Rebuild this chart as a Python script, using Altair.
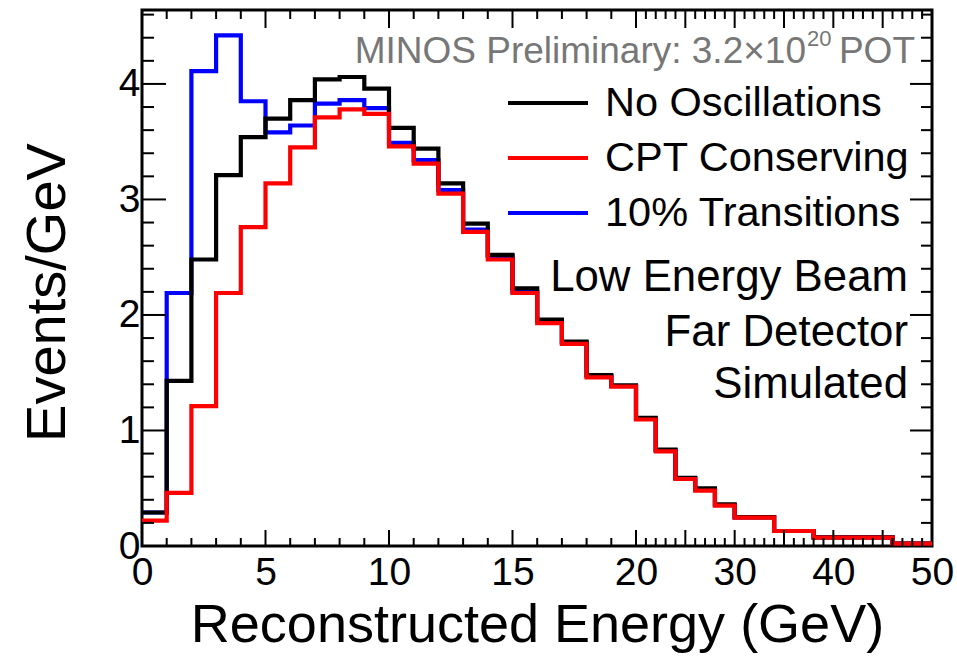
import altair as alt
import pandas as pd

# ---- data ----
edges = [0, 1, 2, 3, 4, 5, 6, 7, 8, 9, 10, 11, 12, 13, 14, 15, 16, 17, 18, 19, 20,
         22, 24, 26, 28, 30, 34, 38, 46, 50]
no_osc = [0.29, 1.43, 2.48, 3.21, 3.54, 3.70, 3.86, 4.04, 4.06, 3.96, 3.62, 3.44, 3.14, 2.79,
          2.52, 2.23, 1.96, 1.77, 1.48, 1.39, 1.11, 0.835, 0.59, 0.50, 0.36, 0.25, 0.13, 0.075, 0.02]
cpt_cons = [0.22, 0.46, 1.21, 2.19, 2.76, 3.14, 3.45, 3.71, 3.78, 3.74, 3.46, 3.31, 3.05, 2.72,
            2.48, 2.19, 1.93, 1.75, 1.46, 1.38, 1.095, 0.82, 0.58, 0.48, 0.35, 0.245, 0.13, 0.073, 0.02]
trans10 = [0.29, 2.19, 4.11, 4.42, 3.85, 3.58, 3.64, 3.83, 3.86, 3.79, 3.49, 3.34, 3.08, 2.74,
           2.51, 2.20, 1.95, 1.76, 1.47, 1.385, 1.10, 0.83, 0.585, 0.49, 0.355, 0.248, 0.13, 0.074, 0.02]
series_names = ["10% Transitions", "No Oscillations", "CPT Conserving"]
series_vals = [trans10, no_osc, cpt_cons]
series_colors = ["#0000ff", "#000000", "#ff0000"]

x_label_vals = [0, 5, 10, 15, 20, 30, 40, 50]
y_label_vals = [0, 1, 2, 3, 4]
x_major = [5, 10, 15, 20, 25, 30, 35, 40, 45]
x_minor = [v for v in range(1, 50) if v % 5 != 0]
y_major = [1, 2, 3, 4]
y_minor = [round(0.2 * i, 1) for i in range(1, 24) if i % 5 != 0]

W, H = 790, 536
FONT = "Liberation Sans"

rows = []
for order, (name, vals) in enumerate(zip(series_names, series_vals)):
    for e, v in zip(edges[:-1], vals):
        rows.append({"series": name, "E": e, "val": v, "order": order})
    rows.append({"series": name, "E": edges[-1], "val": vals[-1], "order": order})
df = pd.DataFrame(rows)

xs = alt.Scale(domain=[0, 20, 50], range=[0, 494, W])
ys = alt.Scale(domain=[0, 4.64], nice=False, zero=False)

x_axis = alt.Axis(values=x_label_vals, ticks=False, domain=False, grid=False,
                  labelFontSize=39, labelPadding=7, labelFont=FONT, labelColor="black",
                  labelFlush=False, labelOverlap=False,
                  title="Reconstructed Energy (GeV)", titleFontSize=54, titleFont=FONT,
                  titleFontWeight="normal", titleColor="black", titlePadding=6)
y_axis = alt.Axis(values=y_label_vals, ticks=False, domain=False, grid=False,
                  labelFontSize=39, labelPadding=2, labelFont=FONT, labelColor="black",
                  labelFlush=False, labelOverlap=False,
                  title="Events/GeV", titleFontSize=56, titleFont=FONT,
                  titleFontWeight="normal", titleColor="black", titlePadding=42,
                  titleY=282)

layers = []
for name, col in zip(series_names, series_colors):
    layers.append(
        alt.Chart(df).transform_filter(alt.datum.series == name).mark_line(
            interpolate="step-after", color=col, strokeWidth=4.2, clip=True
        ).encode(
            x=alt.X("E:Q", scale=xs, axis=x_axis, title="Reconstructed Energy (GeV)"),
            y=alt.Y("val:Q", scale=ys, axis=y_axis, title="Events/GeV"),
        )
    )

# inward ticks on all four sides
def xticks(vals, y0, y1):
    return alt.Chart(pd.DataFrame({"E": vals})).mark_rule(color="black", strokeWidth=2).encode(
        x=alt.X("E:Q", scale=xs, axis=x_axis, title="Reconstructed Energy (GeV)"),
        y=alt.value(y0), y2=alt.value(y1))

def yticks(vals, x0, x1):
    return alt.Chart(pd.DataFrame({"val": vals})).mark_rule(color="black", strokeWidth=2).encode(
        y=alt.Y("val:Q", scale=ys, axis=y_axis, title="Events/GeV"),
        x=alt.value(x0), x2=alt.value(x1))

layers += [
    xticks(x_major, H, H - 16), xticks(x_minor, H, H - 8),
    xticks(x_major, 0, 18), xticks(x_minor, 0, 9),
    yticks(y_major, 0, 24), yticks(y_minor, 0, 12),
    yticks(y_major, W, W - 22), yticks(y_minor, W, W - 11),
]

one = pd.DataFrame({"k": [0]})

def txt(s, x, y, size, align="left", color="black", baseline="middle"):
    return alt.Chart(one).mark_text(text=s, font=FONT, fontSize=size, align=align,
                                    baseline=baseline, color=color).encode(
        x=alt.value(x), y=alt.value(y))

# annotation
layers += [
    txt("MINOS Preliminary: 3.2×10", 664, 53, 37, align="right", color="#777777", baseline="alphabetic"),
    txt("20", 665, 36, 22, align="left", color="#777777", baseline="alphabetic"),
    txt("POT", 773, 53, 37, align="right", color="#777777", baseline="alphabetic"),
]

# legend
leg_y = [93, 148, 203]
for name, col, yy in zip(["No Oscillations", "CPT Conserving", "10% Transitions"],
                         ["#000000", "#ff0000", "#0000ff"], leg_y):
    layers.append(alt.Chart(one).mark_rule(color=col, strokeWidth=4.2).encode(
        x=alt.value(366), x2=alt.value(446), y=alt.value(yy)))
    layers.append(txt(name, 463, yy + 1, 41.5))

for s, yy in zip(["Low Energy Beam", "Far Detector", "Simulated"], [268, 323, 375]):
    layers.append(txt(s, 766, yy, 43.8, align="right"))

chart = alt.layer(*layers).properties(
    width=W, height=H,
    autosize=alt.AutoSizeParams(type="none"),
    padding={"left": 142, "top": 10, "right": 25, "bottom": 113},
    background="white",
).configure_view(stroke="black", strokeWidth=3)

chart.save("out.html", embed_options={"renderer": "svg", "actions": False})
